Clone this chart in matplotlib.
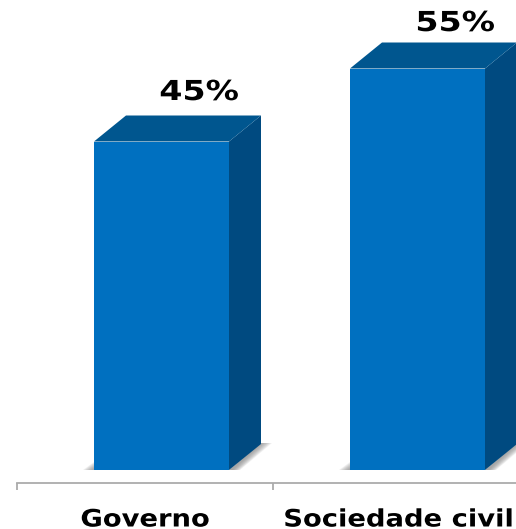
import matplotlib
matplotlib.use("Agg")
import matplotlib.pyplot as plt
from matplotlib.patches import Polygon
from matplotlib.patheffects import AbstractPathEffect
from matplotlib.transforms import Affine2D

categories = ["Governo", "Sociedade civil"]
values = [45, 55]
value_labels = ["45%", "55%"]
name_nudges = [0, -2.5]
label_gaps = [41.5, 37.5]

FIG_W, FIG_H = 516, 529
AXIS_Y = 483          # pixel row of the category axis
FLOOR_Y = 470         # pixel row of the bars' base
SLOT_PX = 256         # pixels per category
PX_PER_UNIT = 7.3     # pixels per percentage point
FRONT = "#0070C0"
TOP = "#00568F"
SIDE = "#004A80"


class StretchX(AbstractPathEffect):
    """Widen glyph outlines horizontally around a display-space centre."""

    def __init__(self, factor, centre):
        super().__init__()
        self.factor = factor
        self.centre = centre

    def draw_path(self, renderer, gc, tpath, affine, rgbFace=None):
        stretch = (Affine2D().translate(-self.centre, 0)
                   .scale(self.factor, 1).translate(self.centre, 0))
        renderer.draw_path(gc, tpath, affine + stretch, rgbFace)


fig = plt.figure(figsize=(FIG_W / 100, FIG_H / 100), dpi=100, facecolor="white")
ax = fig.add_axes([17 / FIG_W, (FIG_H - AXIS_Y) / FIG_H,
                   2 * SLOT_PX / FIG_W, AXIS_Y / FIG_H])
ax.set_xlim(-0.5, 1.5)
ax.set_ylim(-(AXIS_Y - FLOOR_Y) / PX_PER_UNIT, FLOOR_Y / PX_PER_UNIT)
ax.patch.set_visible(False)

for side in ("top", "left", "right"):
    ax.spines[side].set_visible(False)
ax.spines["bottom"].set_color("#ABABAB")
ax.spines["bottom"].set_linewidth(1.3)
ax.yaxis.set_visible(False)
ax.set_xticks([-0.5, 0.5, 1.5])
ax.set_xticklabels([])
ax.tick_params(axis="x", which="major", length=5.2, width=1.3, color="#ABABAB")

bar_width = 135 / SLOT_PX
shift = 16.5 / SLOT_PX
dx = 32 / SLOT_PX
dy = 26 / PX_PER_UNIT
px = 1 / SLOT_PX
py = 1 / PX_PER_UNIT
positions = [i + shift for i in range(len(values))]

for pos, val in zip(positions, values):
    left, right = pos - bar_width / 2, pos + bar_width / 2

    # soft floor shadow, built up from translucent layers
    layers = 10
    for k in range(1, layers + 1):
        f = k / layers
        ax.add_patch(Polygon(
            [(right, 0), (right + dx, dy + 1 * py),
             (right + dx + 11 * px * f, dy + 1 * py),
             (right + 3 * px + 8 * px * f, 0)],
            closed=True, facecolor="#7F7F7F", edgecolor="none", alpha=0.10,
            zorder=1))
        ax.add_patch(Polygon(
            [(left, 0), (left - 11 * px * f, 0), (left, 8 * py * f)],
            closed=True, facecolor="#7F7F7F", edgecolor="none", alpha=0.10,
            zorder=1))

    ax.bar(pos, val, width=bar_width, color=FRONT, linewidth=0, zorder=3)
    ax.add_patch(Polygon(
        [(right, 0), (right + dx, dy), (right + dx, val + dy), (right, val)],
        closed=True, facecolor=SIDE, edgecolor="none", zorder=2))
    ax.add_patch(Polygon(
        [(left, val), (left + dx, val + dy), (right + dx, val + dy), (right, val)],
        closed=True, facecolor=TOP, edgecolor="none", zorder=2))

font = {"family": "DejaVu Sans", "weight": "bold", "color": "black"}

for i, (name, label, val) in enumerate(zip(categories, value_labels, values)):
    cx = ax.transData.transform((i, 0))[0] + name_nudges[i]
    ax.annotate(name, xy=(i, 0), xycoords=("data", "axes fraction"),
                xytext=(name_nudges[i] * 0.72, -43.5 * 0.72), textcoords="offset points",
                ha="center", va="baseline", fontsize=24 * 0.72,
                annotation_clip=False, zorder=5,
                path_effects=[StretchX(1.14, cx)], **font)
    lx = ax.transData.transform((positions[i] + 37.5 / SLOT_PX, 0))[0]
    ax.annotate(label, xy=(positions[i] + 37.5 / SLOT_PX, val),
                xytext=(0, label_gaps[i] * 0.72), textcoords="offset points",
                ha="center", va="baseline", fontsize=27.5 * 0.72,
                annotation_clip=False, zorder=5,
                path_effects=[StretchX(1.21, lx)], **font)

fig.savefig("out.png", dpi=100, facecolor="white")
